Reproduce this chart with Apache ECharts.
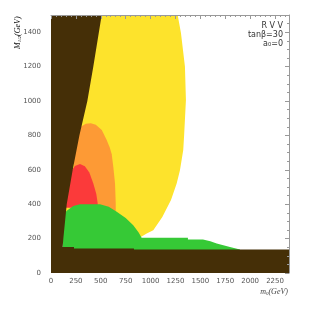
<!DOCTYPE html>
<html><head><meta charset="utf-8">
<script src="https://cdn.jsdelivr.net/npm/echarts@6/dist/echarts.min.js"></script>
<style>html,body{margin:0;padding:0;background:#fff}#c{width:309px;height:309px}</style>
</head><body><div id="c"></div>
<script>
// Region boundaries, [m0 (GeV), M1/2 (GeV)]
var yellowRegion = [[0,1500],[1272,1500],[1305,1395],[1345,1200],[1355,1006],[1338,813],[1328,715],[1295,598],[1262,521],[1205,424],[1118,326],[1027,249],[961,229],[894,206],[880,195],[0,195]];
var orangeRegion = [[230,700],[264,800],[300,850],[350,868],[400,870],[450,862],[510,832],[559,773],[590,730],[610,690],[625,620],[643,521],[650,405],[650,350],[230,350]];
var redRegion = [[150,400],[160,520],[200,590],[240,622],[291,633],[340,620],[385,585],[425,521],[455,460],[469,404],[470,380],[150,380]];
var greenRegion = [[117,140],[120,300],[128,340],[158,362],[224,390],[291,400],[492,400],[580,385],[660,356],[750,320],[826,278],[880,235],[910,205],[1375,205],[1375,195],[1526,195],[1600,185],[1664,171],[1797,151],[1898,136],[1898,130],[117,130]];
var brownWedge = [[0,0],[0,1500],[509,1500],[425,1200],[365,1000],[285,800],[218,600],[158,400],[124,200],[117,151],[117,0]];
var brownStrip = [[0,0],[2400,0],[2400,136],[833,136],[833,142],[231,142],[231,151],[0,151]];
var xTicks = [0,250,500,750,1000,1250,1500,1750,2000,2250];
var yTicks = [0,200,400,600,800,1000,1200,1400];
var labelLines = ['R V V','tanβ=30','a₀=0'];

function poly(name, pts, color){
  return {type:'custom', name:name, data:pts, clip:true, silent:true, animation:false,
    encode:{x:0,y:1},
    renderItem:function(params, api){
      if(params.dataIndex!==0) return null;
      var points = pts.map(function(p){return api.coord(p);});
      return {type:'polygon', shape:{points:points}, style:{fill:color}};
    }};
}
var chart = echarts.init(document.getElementById('c'), null, {renderer:'canvas'});
var axisLbl = {color:'#555', fontSize:7, fontFamily:'DejaVu Sans'};
chart.setOption({
  animation:false,
  grid:{left:51, right:20, top:15, bottom:36},
  xAxis:[{type:'value', min:0, max:2390, interval:250, position:'bottom',
    axisLine:{show:false, onZero:false}, axisTick:{show:false}, splitLine:{show:false},
    axisLabel:Object.assign({margin:5, showMaxLabel:false, formatter:function(v){return xTicks.indexOf(v)>=0?String(v):'';}}, axisLbl),
    name:'{i|m}{s|0}{n|(GeV)}', nameLocation:'end', nameGap:-1,
    nameTextStyle:{align:'right', verticalAlign:'top', padding:[14,0,0,0],
      rich:{i:{fontFamily:'Liberation Serif', fontStyle:'italic', fontSize:8, color:'#444'},
            s:{fontFamily:'Liberation Serif', fontStyle:'italic', fontSize:5, color:'#444', verticalAlign:'bottom', padding:[4,0,0,0]},
            n:{fontFamily:'Liberation Serif', fontStyle:'italic', fontSize:8, color:'#444'}}}},
    {type:'value', min:0, max:2390, interval:250, position:'top', z:20,
    axisLine:{show:true, onZero:false, lineStyle:{color:'#999', width:1}},
    axisTick:{show:true, inside:true, length:4, lineStyle:{color:'#999'}},
    minorTick:{show:true, splitNumber:5, length:2, lineStyle:{color:'#999'}},
    axisLabel:{show:false}, splitLine:{show:false}}],
  yAxis:[{type:'value', min:0, max:1500, interval:200, position:'left',
    axisLine:{show:false, onZero:false}, axisTick:{show:false}, splitLine:{show:false},
    axisLabel:Object.assign({margin:10, showMaxLabel:false, formatter:function(v){return yTicks.indexOf(v)>=0?String(v):'';}}, axisLbl)},
    {type:'value', min:0, max:1500, interval:200, position:'right', z:20,
    axisLine:{show:true, onZero:false, lineStyle:{color:'#999', width:1}},
    axisTick:{show:true, inside:true, length:4, lineStyle:{color:'#999'}},
    minorTick:{show:true, splitNumber:4, length:2, lineStyle:{color:'#999'}},
    axisLabel:{show:false}, splitLine:{show:false}}],
  graphic:[
    {type:'text', x:18, y:49, rotation:Math.PI/2,
      style:{text:'{i|M}{s|1/2}{n|(GeV)}', align:'left', verticalAlign:'middle',
        rich:{i:{fontFamily:'Liberation Serif', fontStyle:'italic', fontSize:8, color:'#444'},
              s:{fontFamily:'Liberation Serif', fontStyle:'italic', fontSize:5, color:'#444', padding:[4,0,0,0]},
              n:{fontFamily:'Liberation Serif', fontStyle:'italic', fontSize:8, color:'#444'}}}},
    {type:'text', x:283, y:21, style:{text:labelLines.join('\n'), align:'right', verticalAlign:'top', fontSize:8, lineHeight:9, fill:'#333', fontFamily:'DejaVu Sans'}}
  ],
  series:[
    poly('yellow', yellowRegion, '#fde32c'),
    poly('orange', orangeRegion, '#fd9a35'),
    poly('red', redRegion, '#fb3a3a'),
    poly('green', greenRegion, '#36c936'),
    poly('wedge', brownWedge, '#452f07'),
    poly('strip', brownStrip, '#452f07')
  ]
});
</script></body></html>
